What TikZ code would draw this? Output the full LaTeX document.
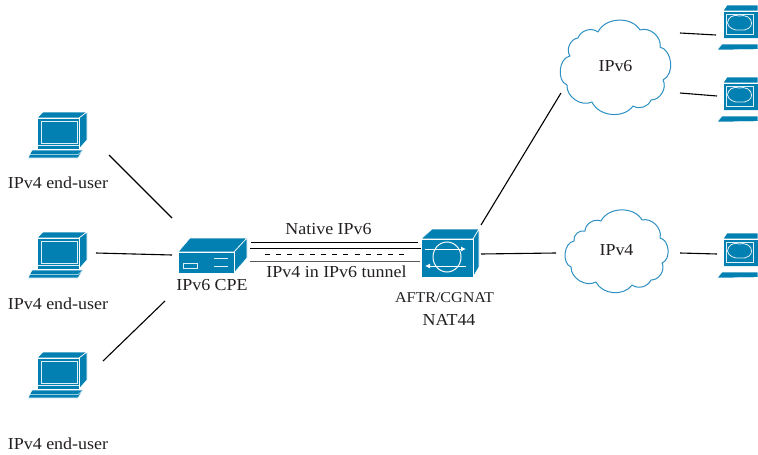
\documentclass[tikz,border=0pt]{standalone}
\usepackage{fontspec}
\setmainfont[FakeStretch=1.07]{Liberation Serif}
\definecolor{netblue}{HTML}{0380B2}
\definecolor{cloudblue}{HTML}{2D90C2}
\definecolor{txt}{HTML}{231F20}
\tikzset{
  x=1pt,y=-1pt,
  link/.style={draw=black,line width=1.1pt},
  lbl/.style={font=\fontsize{16.8}{19}\selectfont,text=txt,inner sep=0pt,anchor=center},
  lblcaps/.style={font=\fontsize{15}{19}\selectfont,text=txt,inner sep=0pt,anchor=center},
  body/.style={fill=netblue,draw=white,line width=.6pt,line join=round},
  detail/.style={draw=white!88!netblue,line width=.8pt},
  cloudline/.style={draw=cloudblue,line width=1pt,fill=white,line join=round},
  bump/.style={bend left=#1},
  pics/laptop/.style={code={
    \path[body] (9,6) -- (15,0) -- (59,0) -- (51,6) -- cycle;
    \path[body] (51,6) -- (59,0) -- (59,28) -- (51,37) -- cycle;
    \path[body] (9,6) rectangle (51,37);
    \draw[detail] (13,9) rectangle (49,31);
    \draw[detail] (9,33) -- (51,33);
    \path[body] (4,38) -- (55,38) -- (50,46) -- (0,46) -- cycle;
    \draw[detail,line width=.5pt] (1,42.5) -- (50,42.5) -- (55,38);
  }},
  pics/server/.style={code={
    \path[body] (0,14) -- (12,0) -- (69,0) -- (56,14) -- cycle;
    \path[body] (56,14) -- (69,0) -- (69,20) -- (56,35) -- cycle;
    \path[body] (0,14) rectangle (56,35);
    \draw[detail] (5,25) rectangle (19,30);
    \draw[detail] (36,20) -- (50,20) (36,28) -- (50,28);
  }},
  pics/switchbox/.style={code={
    \path[body] (0,10) -- (11,0) -- (58,0) -- (52,10) -- cycle;
    \path[body] (52,10) -- (58,0) -- (58,38) -- (52,48) -- cycle;
    \path[body] (0,10) rectangle (52,48);
    \draw[white,line width=1pt] (26,28) ellipse (14 and 15);
    \draw[white,line width=.9pt,-{Latex[length=5pt,width=5pt]}] (4,20) -- (45,20);
    \draw[white,line width=.9pt,-{Latex[length=5pt,width=5pt]}] (45,37) -- (4,37);
  }},
  pics/host/.style={code={
    \path[body] (0,6) -- (4,0) -- (35,0) -- (35,6) -- cycle;
    \path[body] (0,6) rectangle (35,33);
    \draw[detail] (3,9) rectangle (30,29);
    \draw[detail,line width=.8pt] (16,11) .. controls (9,9) and (5,13) .. (4.5,18)
      .. controls (5,23) and (12,26) .. (17,25) .. controls (24,26) and (29,22) .. (28.5,18)
      .. controls (29,13) and (22,9) .. (16,11) -- cycle;
    \draw[detail,line width=.6pt] (0,33) -- (35,33);
    \path[body] (-1,39) -- (35,39) -- (35,44.5) -- (-6,45) -- cycle;
  }},
}
\usetikzlibrary{arrows.meta}
\begin{document}
\begin{tikzpicture}
\useasboundingbox (0,0) rectangle (758,455);

% left hosts
\pic at (28,112) {laptop};
\pic at (28,232) {laptop};
\pic at (28,352) {laptop};
% right hosts
\pic at (723,5) {host};
\pic at (723,77) {host};
\pic at (723,233) {host};
% devices
\pic at (178,238) {server};
\pic at (421,229) {switchbox};

% clouds
\coordinate (ca1) at (567,85);
\coordinate (ca2) at (570,56);
\coordinate (ca3) at (578,38);
\coordinate (ca4) at (598,32);
\coordinate (ca5) at (640,30);
\coordinate (ca6) at (660,47);
\coordinate (ca7) at (663,80);
\coordinate (ca8) at (651,100);
\coordinate (ca9) at (633,106);
\coordinate (ca10) at (592,102);
\path[cloudline] (ca1) to[bump=75] (ca2) to[bump=60] (ca3) to[bump=55] (ca4) to[bump=62] (ca5)
  to[bump=60] (ca6) to[bump=70] (ca7) to[bump=60] (ca8) to[bump=50] (ca9) to[bump=60] (ca10)
  to[bump=60] (ca1) -- cycle;
\coordinate (cb1) at (571,267);
\coordinate (cb2) at (574,241);
\coordinate (cb3) at (585,231);
\coordinate (cb4) at (601,221);
\coordinate (cb5) at (642,220);
\coordinate (cb6) at (660,238);
\coordinate (cb7) at (662,263);
\coordinate (cb8) at (651,280);
\coordinate (cb9) at (632,285);
\coordinate (cb10) at (596,282);
\path[cloudline] (cb1) to[bump=75] (cb2) to[bump=60] (cb3) to[bump=55] (cb4) to[bump=62] (cb5)
  to[bump=60] (cb6) to[bump=75] (cb7) to[bump=60] (cb8) to[bump=50] (cb9) to[bump=60] (cb10)
  to[bump=60] (cb1) -- cycle;

% labels
\node[lbl] (l1) at (58,183) {IPv4 end-user};
\node[lbl] (l2) at (58,304) {IPv4 end-user};
\node[lbl] (l3) at (58,444) {IPv4 end-user};
\node[lbl] (cpe) at (212,285) {IPv6 CPE};
\node[lbl] (nat) at (328.5,229) {Native IPv6};
\node[lbl] (tun) at (336.5,272) {IPv4 in IPv6 tunnel};
\node[lblcaps] (aftr) at (444.5,298) {AFTR/CGNAT};
\node[lbl] (nat44) at (449,320) {NAT44};
\node[lbl] (v6) at (615.5,66) {IPv6};
\node[lbl] (v4) at (616.5,250) {IPv4};

% connector ends
\coordinate (a1) at (109,155); \coordinate (b1) at (172,218);
\coordinate (a2) at (96,253);  \coordinate (b2) at (172,255);
\coordinate (a3) at (103,361); \coordinate (b3) at (165,301);
\coordinate (a4) at (481,225); \coordinate (b4) at (561,93);
\coordinate (a5) at (481,254); \coordinate (b5) at (556,253);
\coordinate (a6) at (680,33);  \coordinate (b6) at (716,35);
\coordinate (a7) at (680,93);  \coordinate (b7) at (717,96);
\coordinate (a8) at (680,253); \coordinate (b8) at (717,254);
\coordinate (t1a) at (251,242); \coordinate (t1b) at (418,242);
\coordinate (t2a) at (250,248); \coordinate (t2b) at (421,248);
\coordinate (t3a) at (265,254); \coordinate (t3b) at (410,254);
\coordinate (t4a) at (250,261); \coordinate (t4b) at (420,261);

\draw[link] (a1) -- (b1);
\draw[link] (a2) -- (b2);
\draw[link] (a3) -- (b3);
\draw[link] (a4) -- (b4);
\draw[link] (a5) -- (b5);
\draw[link] (a6) -- (b6);
\draw[link] (a7) -- (b7);
\draw[link] (a8) -- (b8);
\draw[link,line width=1pt] (t1a) -- (t1b);
\draw[link,line width=.9pt] (t2a) -- (t2b);
\draw[link,line width=.7pt,dash pattern=on 5pt off 6.2pt] (t3a) -- (t3b);
\draw[link,line width=.8pt,draw=black!65] (t4a) -- (t4b);
\end{tikzpicture}
\end{document}
